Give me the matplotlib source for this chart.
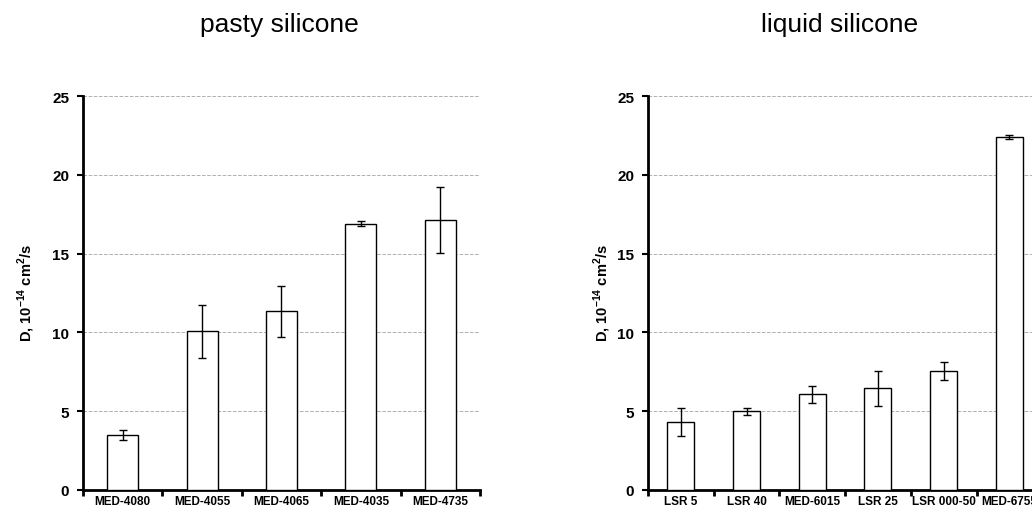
import matplotlib
matplotlib.use("Agg")
import matplotlib.pyplot as plt
import numpy as np

plt.rcParams.update({
    'font.family': ['Liberation Sans', 'DejaVu Sans'],
    'mathtext.fontset': 'custom',
    'mathtext.rm': 'Liberation Sans',
    'mathtext.bf': 'Liberation Sans:bold',
})

pasty_names = ["MED-4080", "MED-4055", "MED-4065", "MED-4035", "MED-4735"]
pasty_vals = [3.47, 10.06, 11.33, 16.89, 17.12]
pasty_err = [0.32, 1.67, 1.61, 0.17, 2.11]

liquid_names = ["LSR 5", "LSR 40", "MED-6015", "LSR 25", "LSR 000-50", "MED-6755"]
liquid_vals = [4.34, 4.98, 6.06, 6.44, 7.58, 22.39]
liquid_err = [0.89, 0.23, 0.51, 1.08, 0.57, 0.15]

ylabel = r'D, 10$^{\mathbf{-14}}$ cm$^{\mathbf{2}}$/s'


def draw_panel(ax, names, vals, errs, width):
    x = np.arange(len(names))
    ax.bar(x, vals, width=width, color='white', edgecolor='black', linewidth=1.0, zorder=3)
    ax.errorbar(x, vals, yerr=errs, fmt='none', ecolor='black', elinewidth=1.0,
                capsize=3, capthick=1.0, zorder=4)
    ax.set_xlim(-0.5, len(names) - 0.5)
    ax.set_ylim(0, 25)
    ax.set_yticks([0, 5, 10, 15, 20, 25])
    ax.set_yticklabels(['0', '5', '10', '15', '20', '25'], fontsize=11, fontweight='bold')
    # labels centred on bars, ticks between categories
    ax.set_xticks(x)
    ax.set_xticklabels(names, fontsize=8.5, fontweight='bold')
    ax.tick_params(axis='x', length=0, pad=3.5)
    ax.set_xticks(np.arange(len(names) + 1) - 0.5, minor=True)
    ax.tick_params(axis='x', which='minor', length=4, width=2, direction='out')
    ax.tick_params(axis='y', length=4, width=1.5, direction='out', pad=6)
    ax.yaxis.grid(True, color='#b0b0b0', linestyle='--', linewidth=0.7, zorder=0)
    ax.set_axisbelow(True)
    for side in ['top', 'right']:
        ax.spines[side].set_visible(False)
    ax.spines['left'].set_linewidth(2)
    ax.spines['bottom'].set_linewidth(2)


fig = plt.figure(figsize=(10.32, 5.10), dpi=100)
ax1 = fig.add_axes([0.0804, 0.0373, 0.3847, 0.7725])
ax2 = fig.add_axes([0.6279, 0.0373, 0.382, 0.7725])

draw_panel(ax1, pasty_names, pasty_vals, pasty_err, 0.39)
draw_panel(ax2, liquid_names, liquid_vals, liquid_err, 0.41)

fig.text(0.0252, 0.4255, ylabel, rotation=90, ha='center', va='center',
         fontsize=10.5, fontweight='bold')
fig.text(0.5833, 0.4255, ylabel, rotation=90, ha='center', va='center',
         fontsize=10.5, fontweight='bold')

fig.text(0.2705, 0.937, "pasty silicone", ha='center', va='baseline', fontsize=19)
fig.text(0.814, 0.937, "liquid silicone", ha='center', va='baseline', fontsize=19)

fig.savefig("out.png", dpi=100)
plt.close(fig)
